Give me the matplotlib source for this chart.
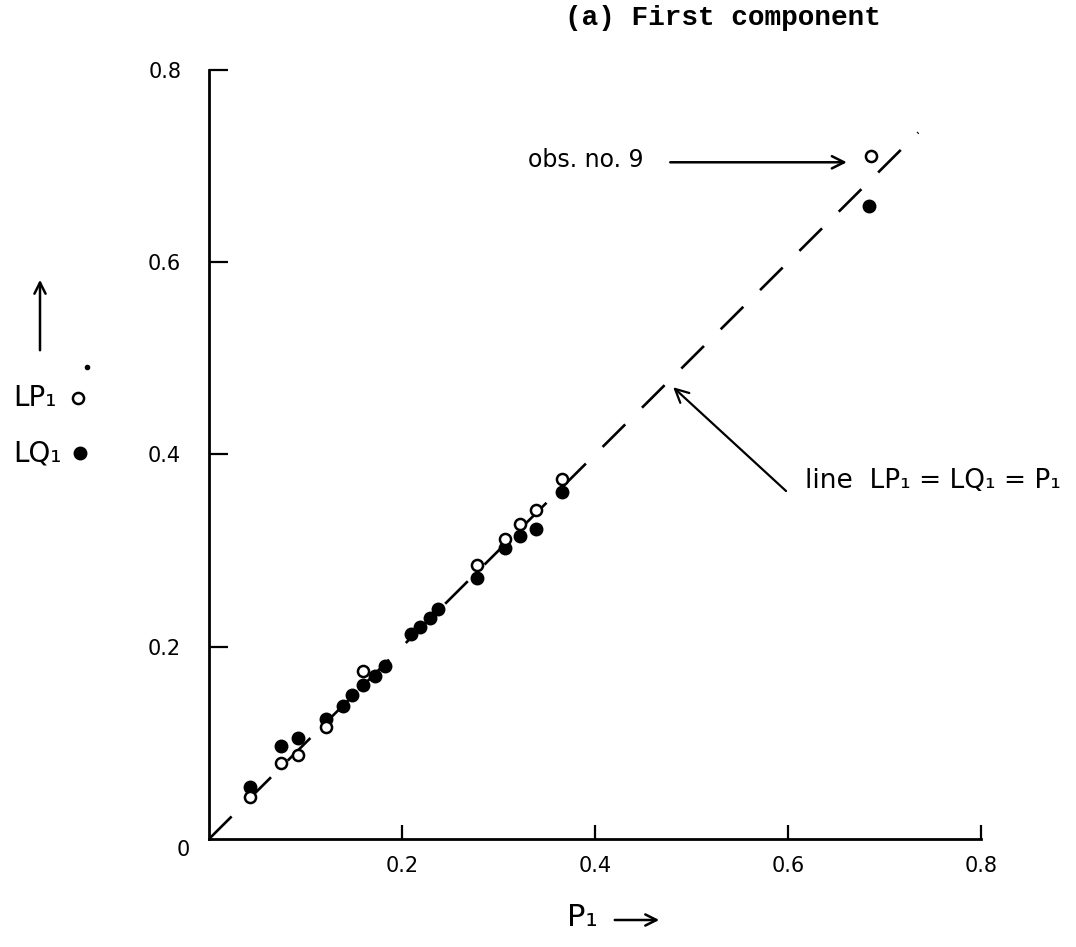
import matplotlib
matplotlib.use("Agg")
import matplotlib.pyplot as plt
import numpy as np

# values
p1_lq = [0.042, 0.075, 0.092, 0.121, 0.139, 0.148, 0.160, 0.172, 0.182, 0.209,
         0.219, 0.229, 0.237, 0.278, 0.307, 0.322, 0.339, 0.366, 0.684]
lq1 = [0.054, 0.097, 0.105, 0.125, 0.138, 0.150, 0.160, 0.170, 0.180, 0.213,
       0.221, 0.230, 0.239, 0.272, 0.303, 0.315, 0.323, 0.361, 0.659]
p1_lp = [0.042, 0.075, 0.092, 0.121, 0.160, 0.278, 0.307, 0.322, 0.339, 0.366, 0.686]
lp1 = [0.044, 0.079, 0.087, 0.116, 0.175, 0.285, 0.312, 0.328, 0.342, 0.375, 0.711]

ticks = [0.2, 0.4, 0.6, 0.8]
tick_labels = ["0.2", "0.4", "0.6", "0.8"]
line_end = 0.735

W, H = 1076, 947
plt.rcParams['lines.scale_dashes'] = False
plt.rcParams['font.family'] = ['DejaVu Sans']

fig = plt.figure(figsize=(W / 100, H / 100), dpi=100)


def fx(px):
    return px / W


def fy(py):
    return 1 - py / H


ax = fig.add_axes([fx(209), fy(839), fx(981) - fx(209), fy(70) - fy(839)])
ax.set_xlim(0, 0.8)
ax.set_ylim(0, 0.8)
for s in ['top', 'right']:
    ax.spines[s].set_visible(False)
for s in ['left', 'bottom']:
    ax.spines[s].set_linewidth(2.0)
ax.set_xticks(ticks)
ax.set_yticks(ticks)
ax.set_xticklabels(tick_labels)
ax.set_yticklabels(tick_labels)
ax.tick_params(axis='x', direction='in', length=10, width=1.6, labelsize=15, pad=12)
ax.tick_params(axis='y', direction='in', length=14, width=1.6, labelsize=15, pad=20)

# dashed line LP1 = LQ1 = P1
ax.plot([0, line_end], [0, line_end], color='black', lw=1.9, dashes=(23, 17), zorder=1)

ax.plot(p1_lq, lq1, 'o', color='black', ms=9, zorder=3, clip_on=False)
ax.plot(p1_lp, lp1, 'o', mfc='white', mec='black', ms=8, mew=1.8, zorder=4, clip_on=False)

# annotations
ax.annotate("", xy=(0.661, 0.704), xytext=(0.478, 0.704),
            arrowprops=dict(arrowstyle='->', lw=1.8, color='black',
                            mutation_scale=22, shrinkA=0, shrinkB=0))
ax.text(0.450, 0.706, "obs. no. 9", fontsize=17, ha='right', va='center')

ax.annotate("", xy=(0.481, 0.470), xytext=(0.598, 0.362),
            arrowprops=dict(arrowstyle='->', lw=1.6, color='black',
                            mutation_scale=24, shrinkA=0, shrinkB=0))
ax.text(0.618, 0.372, "line  LP₁ = LQ₁ = P₁", fontsize=19, ha='left', va='center')

# title
fig.text(fx(723), fy(18), "(a) First component", fontsize=20, weight='bold',
         family='Liberation Mono', ha='center', va='center')

# origin label
fig.text(fx(183), fy(850), "0", fontsize=15, ha='center', va='center')

# x label
fig.text(fx(567), fy(917), "P₁", fontsize=22, ha='left', va='center')
fig.add_artist(matplotlib.patches.FancyArrowPatch(
    (fx(612), fy(920)), (fx(662), fy(920)), transform=fig.transFigure,
    arrowstyle='->', lw=1.8, color='black', mutation_scale=20))

# y label / legend
fig.add_artist(matplotlib.patches.FancyArrowPatch(
    (fx(40), fy(353)), (fx(40), fy(277)), transform=fig.transFigure,
    arrowstyle='->', lw=1.8, color='black', mutation_scale=20))
fig.text(fx(13), fy(398), "LP₁", fontsize=20, ha='left', va='center')
fig.text(fx(13), fy(453), "LQ₁", fontsize=20, ha='left', va='center')
fig.add_artist(matplotlib.lines.Line2D([fx(78)], [fy(398)], marker='o', mfc='white',
                                       mec='black', ms=8, mew=1.8,
                                       transform=fig.transFigure))
fig.add_artist(matplotlib.lines.Line2D([fx(87)], [fy(367)], marker='o', color='black',
                                       ms=3, transform=fig.transFigure))
fig.add_artist(matplotlib.lines.Line2D([fx(80)], [fy(453)], marker='o', color='black',
                                       ms=9, transform=fig.transFigure))

fig.savefig("out.png", dpi=100)
